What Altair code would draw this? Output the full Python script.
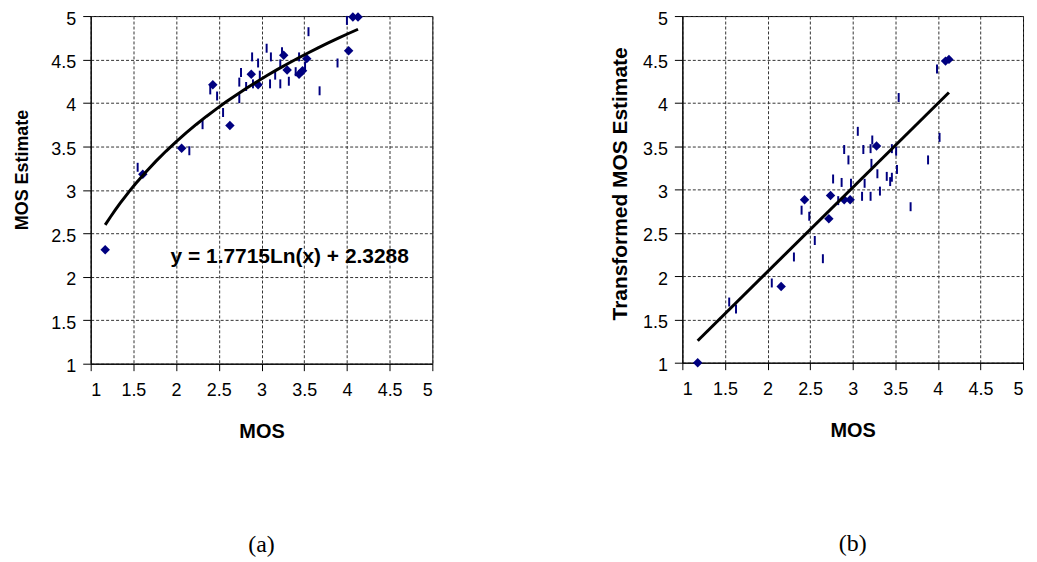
import altair as alt
import pandas as pd

# ---------------- data ----------------
x_ticks = [1, 1.5, 2, 2.5, 3, 3.5, 4, 4.5, 5]
y_ticks = [1, 1.5, 2, 2.5, 3, 3.5, 4, 4.5, 5]

# panel (a)
a_diamond_x = [1.17, 1.61, 2.065, 2.43, 2.63, 2.88, 2.96, 3.26, 3.30, 3.44, 3.48, 3.53, 4.02, 4.07, 4.13]
a_diamond_y = [2.31, 3.18, 3.48, 4.21, 3.74, 4.33, 4.21, 4.55, 4.38, 4.33, 4.37, 4.51, 4.60, 4.99, 4.99]
a_dash_x = [1.55, 2.155, 2.31, 2.40, 2.48, 2.55, 2.74, 2.76, 2.74, 2.82, 2.90, 2.89, 2.96, 2.98,
            3.06, 3.11, 3.10, 3.16, 3.22, 3.22, 3.24, 3.32, 3.40, 3.44, 3.51, 3.55, 3.68, 3.89, 4.00]
a_dash_y = [3.26, 3.45, 3.75, 4.15, 4.08, 3.89, 4.24, 4.35, 4.05, 4.19, 4.22, 4.53, 4.46, 4.32,
            4.63, 4.53, 4.22, 4.32, 4.22, 4.45, 4.59, 4.25, 4.36, 4.53, 4.42, 4.82, 4.14, 4.46, 4.95]
a_equation = "y = 1.7715Ln(x) + 2.3288"

# panel (b)
b_diamond_x = [1.18, 2.16, 2.435, 2.72, 2.74, 2.90, 2.97, 3.28, 4.09, 4.13]
b_diamond_y = [1.00, 1.88, 2.88, 2.66, 2.93, 2.88, 2.88, 3.50, 4.48, 4.50]
b_dash_x = [1.55, 1.63, 2.05, 2.31, 2.40, 2.49, 2.555, 2.65, 2.77, 2.83, 2.87, 2.90, 2.95, 2.98,
            3.06, 3.11, 3.125, 3.14, 3.21, 3.21, 3.22, 3.23, 3.29, 3.32, 3.40, 3.44, 3.46, 3.46,
            3.51, 3.52, 3.54, 3.68, 3.885, 3.99, 4.02]
b_dash_y = [1.70, 1.62, 1.92, 2.22, 2.76, 2.69, 2.41, 2.20, 3.12, 2.87, 3.08, 3.46, 3.34, 3.07,
            3.67, 2.92, 3.46, 3.07, 3.47, 2.92, 3.30, 3.57, 3.18, 2.98, 3.15, 3.09, 3.14, 3.47,
            3.44, 3.23, 4.06, 2.80, 3.34, 4.39, 3.60]

NAVY = "#000080"
DASH_PATH = "M-0.22,-1L0.22,-1L0.22,1L-0.22,1Z"
SANS = "Liberation Sans"


def panel(dx, dy, sx, sy, method, y_title, w, h, ytitle_x, ytitle_y, ytitle_size, label, eq=None):
    df = pd.DataFrame({
        "MOS": dx + sx,
        "Est": dy + sy,
        "series": ["diamond"] * len(dx) + ["dash"] * len(sx),
    })
    xs = alt.Scale(domain=[1, 5], nice=False, zero=False)
    ys = alt.Scale(domain=[1, 5], nice=False, zero=False)
    x_axis = alt.Axis(values=x_ticks, format="~g", title="MOS", titleFontSize=20, titleX=w / 2, titleY=68,
                      titleBaseline="middle", labelPadding=11, tickSize=7)
    y_axis = alt.Axis(values=y_ticks, format="~g", title=y_title, titleFontSize=ytitle_size, titleX=ytitle_x,
                      titleY=ytitle_y, titleBaseline="middle", titleAngle=270, labelPadding=7, tickSize=8,
                      labelOffset=3)
    base = alt.Chart(df)
    diamonds = base.transform_filter(alt.datum.series == "diamond").mark_point(
        shape="diamond", filled=True, size=90, color=NAVY, opacity=1
    ).encode(x=alt.X("MOS:Q", scale=xs, axis=x_axis), y=alt.Y("Est:Q", scale=ys, axis=y_axis))
    dashes = base.transform_filter(alt.datum.series == "dash").mark_point(
        shape=DASH_PATH, filled=True, size=81, color=NAVY, opacity=1
    ).encode(x=alt.X("MOS:Q", scale=xs), y=alt.Y("Est:Q", scale=ys))
    trend = base.transform_regression("MOS", "Est", method=method).mark_line(
        color="black", strokeWidth=3
    ).encode(x=alt.X("MOS:Q", scale=xs), y=alt.Y("Est:Q", scale=ys))
    layers = [diamonds, dashes, trend]
    if eq is not None:
        txt = alt.Chart(pd.DataFrame({"t": [eq]})).mark_text(
            font=SANS, fontSize=21, fontWeight="bold", color="black", align="center", baseline="middle"
        ).encode(x=alt.datum(3.33), y=alt.datum(2.23), text="t:N")
        layers.append(txt)
    return alt.layer(*layers).properties(
        width=w, height=h,
        title=alt.TitleParams(label, orient="bottom", font="Liberation Serif", fontSize=24,
                              fontWeight="normal", anchor="middle", frame="group", offset=92,
                              color="black"),
    )


pa = panel(a_diamond_x, a_diamond_y, a_dash_x, a_dash_y, "log", "MOS Estimate", 343, 349,
           -68, 154, 18, "(a)", a_equation)
pb = panel(b_diamond_x, b_diamond_y, b_dash_x, b_dash_y, "linear", "Transformed MOS Estimate", 342, 348,
           -62, 168, 21, "(b)")

chart = alt.hconcat(pa, pb, spacing=176).properties(
    padding={"left": 5, "top": 0, "right": 5, "bottom": 5}
).configure_view(stroke="black", strokeWidth=1).configure_axis(
    labelFont=SANS, labelFontSize=18, labelColor="black",
    titleFont=SANS, titleFontWeight="bold", titleColor="black",
    domainColor="black", domainWidth=1, tickColor="black", tickWidth=1,
    gridColor="#333333", gridDash=[3, 2], gridWidth=1, gridOpacity=1,
).configure_concat(spacing=176)

chart.save("out.html", embed_options={"renderer": "svg", "actions": False})
